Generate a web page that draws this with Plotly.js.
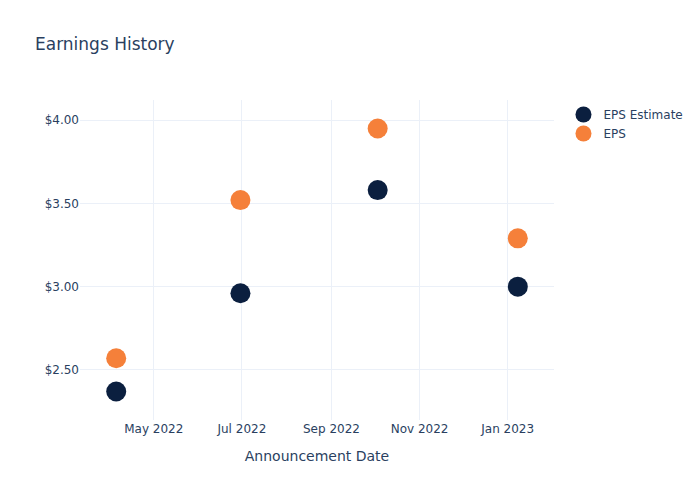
<!DOCTYPE html>
<html>
<head>
<meta charset="utf-8">
<script src="https://cdn.plot.ly/plotly-3.0.1.min.js"></script>
<style>html,body{margin:0;padding:0;}#chart{width:700px;height:500px;}</style>
</head>
<body>
<div id="chart"></div>
<script>
const dates = ["2022-04-05", "2022-06-30", "2022-10-03", "2023-01-08"];
const epsEstimate = [2.37, 2.96, 3.58, 3.00];
const eps = [2.57, 3.52, 3.95, 3.29];

const traces = [
  {x: dates, y: epsEstimate, name: "EPS Estimate", mode: "markers", type: "scatter",
   marker: {color: "#0b1f3f", size: 20}},
  {x: dates, y: eps, name: "EPS", mode: "markers", type: "scatter",
   marker: {color: "#f5803a", size: 20}}
];
const layout = {
  template: "plotly_white",
  width: 700, height: 500,
  title: {text: "Earnings History", font: {size: 17}, x: 0.05, xanchor: "left"},
  xaxis: {title: {text: "Announcement Date", standoff: 16}, type: "date", gridcolor: "#ebf0f8", zeroline: false},
  yaxis: {tickprefix: "$", tickformat: ".2f", gridcolor: "#ebf0f8", zeroline: false},
  paper_bgcolor: "white", plot_bgcolor: "white",
  font: {color: "#2a3f5f", family: "DejaVu Sans"}
};
Plotly.newPlot("chart", traces, layout, {displayModeBar: false});
</script>
</body>
</html>
